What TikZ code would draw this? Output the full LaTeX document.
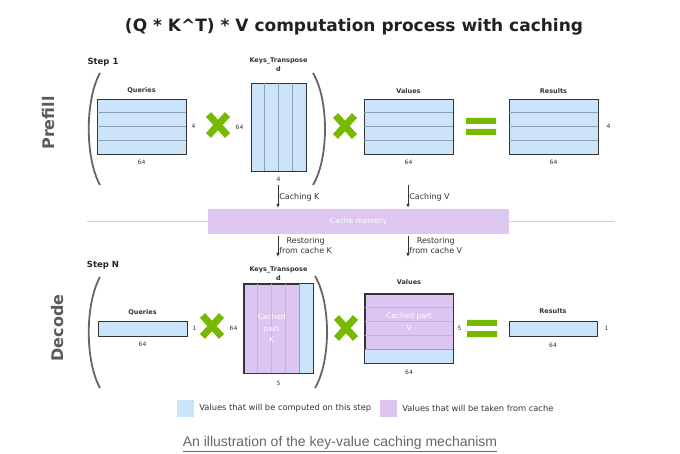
\documentclass[tikz,border=0pt]{standalone}
\usepackage{fontspec}
\setmainfont{DejaVu Sans}
\newfontfamily\captionfont{Liberation Sans}
\usetikzlibrary{positioning,arrows.meta}

\definecolor{cellblue}{HTML}{CCE4FA}
\definecolor{cellpurple}{HTML}{DCC5F0}
\definecolor{cachepurple}{HTML}{DDC6F0}
\definecolor{nvgreen}{HTML}{76B900}
\definecolor{gridline}{HTML}{8E9FB2}
\definecolor{gridpurple}{HTML}{C7AEDD}
\definecolor{framegray}{HTML}{333333}
\definecolor{parengray}{HTML}{666666}
\definecolor{phasegray}{HTML}{5A5A5A}
\definecolor{capgray}{HTML}{666666}

\tikzset{
  mat/.style={draw=framegray, line width=0.9pt, fill=cellblue, inner sep=0pt},
  lbl/.style={font=\bfseries\fontsize{6.5}{9}\selectfont, text=framegray, inner sep=1pt},
  dim/.style={font=\fontsize{6}{7}\selectfont, text=framegray, inner sep=1pt},
  grid/.style={draw=gridline, line width=0.5pt},
  gridp/.style={draw=gridpurple, line width=0.5pt},
  paren/.style={draw=parengray, line width=1.8pt},
  flow/.style={draw=framegray, line width=0.7pt, -{Latex[length=4pt,width=3.5pt]}},
  note/.style={font=\fontsize{8}{9.5}\selectfont, text=framegray, inner sep=1pt},
  legtxt/.style={font=\fontsize{8.3}{10}\selectfont, text=framegray, inner sep=1pt},
  whitetxt/.style={font=\fontsize{7.5}{11.5}\selectfont, text=white, align=center},
  phase/.style={font=\bfseries\fontsize{16}{18}\selectfont, text=phasegray, rotate=90},
  steplbl/.style={font=\bfseries\fontsize{8.5}{10}\selectfont, text=black!85},
  swatch/.style={minimum size=17pt, inner sep=0pt},
  greenx/.pic={\draw[nvgreen, line width=7pt] (-9.5,-10.5) -- (9.5,10.5) (-9.5,10.5) -- (9.5,-10.5);},
  greeneq/.pic={\fill[nvgreen] (-15,-8.5) rectangle (15,-2.5) (-15,2.5) rectangle (15,8.5);}
}

\begin{document}
\begin{tikzpicture}[x=1pt, y=-1pt]
    \useasboundingbox (0,0) rectangle (680,454);

    \node[font=\bfseries\fontsize{17}{20}\selectfont, text=black!87] (title) at (354,27) {(Q * K\^{}T) * V computation process with caching};

    % prefill
    \node[steplbl] (step1) at (103,62) {Step 1};
    \node[phase] (prefill) at (48.5,123) {Prefill};
    \draw[paren] (100,73) .. controls (85,100) and (85,158) .. (100,185);
    \draw[paren] (313,73) .. controls (329,100) and (329,158) .. (313,185);

    \node[mat, minimum width=89pt, minimum height=55pt] (pq) at (141.5,126.5) {};
    \foreach \k in {1,2,3}
        \draw[grid] ([yshift=-\k*13.75pt]pq.north west) -- ([yshift=-\k*13.75pt]pq.north east);
    \node[lbl, above=4pt of pq] {Queries};
    \node[dim, right=4pt of pq] {4};
    \node[dim, below=4pt of pq] {64};

    \pic at (218,125) {greenx};

    \node[mat, minimum width=55pt, minimum height=88pt] (pk) at (278.5,127) {};
    \foreach \k in {1,2,3}
        \draw[grid] ([xshift=\k*13.75pt]pk.north west) -- ([xshift=\k*13.75pt]pk.south west);
    \node[lbl, align=center, above=10pt of pk] {Keys\_Transpose\\d};
    \node[dim, left=6pt of pk] {64};
    \node[dim, below=4pt of pk] (pk4) {4};

    \pic at (345,126) {greenx};

    \node[mat, minimum width=89pt, minimum height=55pt] (pv) at (408.5,126.5) {};
    \foreach \k in {1,2,3}
        \draw[grid] ([yshift=-\k*13.75pt]pv.north west) -- ([yshift=-\k*13.75pt]pv.north east);
    \node[lbl, above=4pt of pv] {Values};
    \node[dim, below=4pt of pv] {64};

    \pic at (481,126.5) {greeneq};

    \node[mat, minimum width=89pt, minimum height=55pt] (pr) at (553.5,126.5) {};
    \foreach \k in {1,2,3}
        \draw[grid] ([yshift=-\k*13.75pt]pr.north west) -- ([yshift=-\k*13.75pt]pr.north east);
    \node[lbl, above=4pt of pr] {Results};
    \node[dim, right=7pt of pr] {4};
    \node[dim, below=4pt of pr] {64};

    % cache
    \coordinate (sepL) at (87,222);
    \coordinate (sepR) at (615,222);
    \draw[black!18, line width=1pt] (sepL) -- (sepR);
    \node[fill=cachepurple, minimum width=301pt, minimum height=25pt, font=\fontsize{7.5}{8}\selectfont, text=white] (cache) at (358.5,221.5) {Cache memory};

    \coordinate (ck) at (278,185);
    \coordinate (cv) at (408,185);
    \draw[flow, shorten >=1pt] (ck) -- (ck |- cache.north) node[midway, right, note] {Caching K};
    \draw[flow, shorten >=1pt] (cv) -- (cv |- cache.north) node[midway, right, note] {Caching V};

    \coordinate (rk) at (278,257);
    \coordinate (rv) at (408,257);
    \draw[flow, shorten <=2pt] (rk |- cache.south) -- (rk) node[midway, right, note, align=center] {Restoring\\from cache K};
    \draw[flow, shorten <=2pt] (rv |- cache.south) -- (rv) node[midway, right, note, align=center] {Restoring\\from cache V};

    % decode
    \node[steplbl] (stepN) at (103,265) {Step N};
    \node[phase] (decode) at (57.5,328) {Decode};
    \draw[paren] (100,277) .. controls (85,304) and (85,361) .. (100,388);
    \draw[paren] (315,276) .. controls (331,303) and (331,361) .. (315,388);

    \node[mat, minimum width=89pt, minimum height=15pt] (dq) at (142.5,328.5) {};
    \node[lbl, above=4pt of dq] {Queries};
    \node[dim, right=4pt of dq] {1};
    \node[dim, below=4pt of dq] {64};

    \pic at (212,326) {greenx};

    \node[mat, fill=cellpurple, minimum width=69pt, minimum height=89pt] (dk) at (278.5,328.5) {};
    \fill[cellblue] ([xshift=-13.8pt]dk.north east) rectangle (dk.south east);
    \foreach \k in {1,2,3}
        \draw[gridp] ([xshift=\k*13.8pt]dk.north west) -- ([xshift=\k*13.8pt]dk.south west);
    \draw[grid] ([xshift=4*13.8pt]dk.north west) -- ([xshift=4*13.8pt]dk.south west);
    \draw[draw=framegray, line width=0.9pt] (dk.north west) rectangle (dk.south east);
    \node[whitetxt] at ([xshift=-6.9pt]dk.center) {Cached\\part\\K};
    \node[lbl, align=center, above=2pt of dk] {Keys\_Transpose\\d};
    \node[dim, left=5pt of dk] {64};
    \node[dim, below=6pt of dk] {5};

    \pic at (346,328) {greenx};

    \node[mat, fill=cellpurple, minimum width=88pt, minimum height=69pt] (dv) at (409,328.5) {};
    \fill[cellblue] ([yshift=13.8pt]dv.south west) rectangle (dv.south east);
    \foreach \k in {1,2,3}
        \draw[gridp] ([yshift=-\k*13.8pt]dv.north west) -- ([yshift=-\k*13.8pt]dv.north east);
    \draw[grid] ([yshift=-4*13.8pt]dv.north west) -- ([yshift=-4*13.8pt]dv.north east);
    \draw[draw=framegray, line width=0.9pt] (dv.north west) rectangle (dv.south east);
    \node[whitetxt] at ([yshift=6.9pt]dv.center) {Cached part\\V};
    \node[lbl, above=8pt of dv] {Values};
    \node[dim, right=3pt of dv] {5};
    \node[dim, below=5pt of dv] {64};

    \pic at (482,328.5) {greeneq};

    \node[mat, minimum width=88pt, minimum height=15pt] (dr) at (553,328.5) {};
    \node[lbl, above=6pt of dr] {Results};
    \node[dim, right=6pt of dr] {1};
    \node[dim, below=5pt of dr] {64};

    % legend
    \node[swatch, fill=cellblue] (lgBlue) at (185.5,408.5) {};
    \node[legtxt, right=4pt of lgBlue] {Values that will be computed on this step};
    \node[swatch, fill=cellpurple] (lgPurple) at (388.5,408.5) {};
    \node[legtxt, right=4pt of lgPurple] {Values that will be taken from cache};

    \node[font=\captionfont\fontsize{14}{16}\selectfont, text=capgray] (caption) at (340,444) {\underline{An illustration of the key-value caching mechanism}};
\end{tikzpicture}
\end{document}
